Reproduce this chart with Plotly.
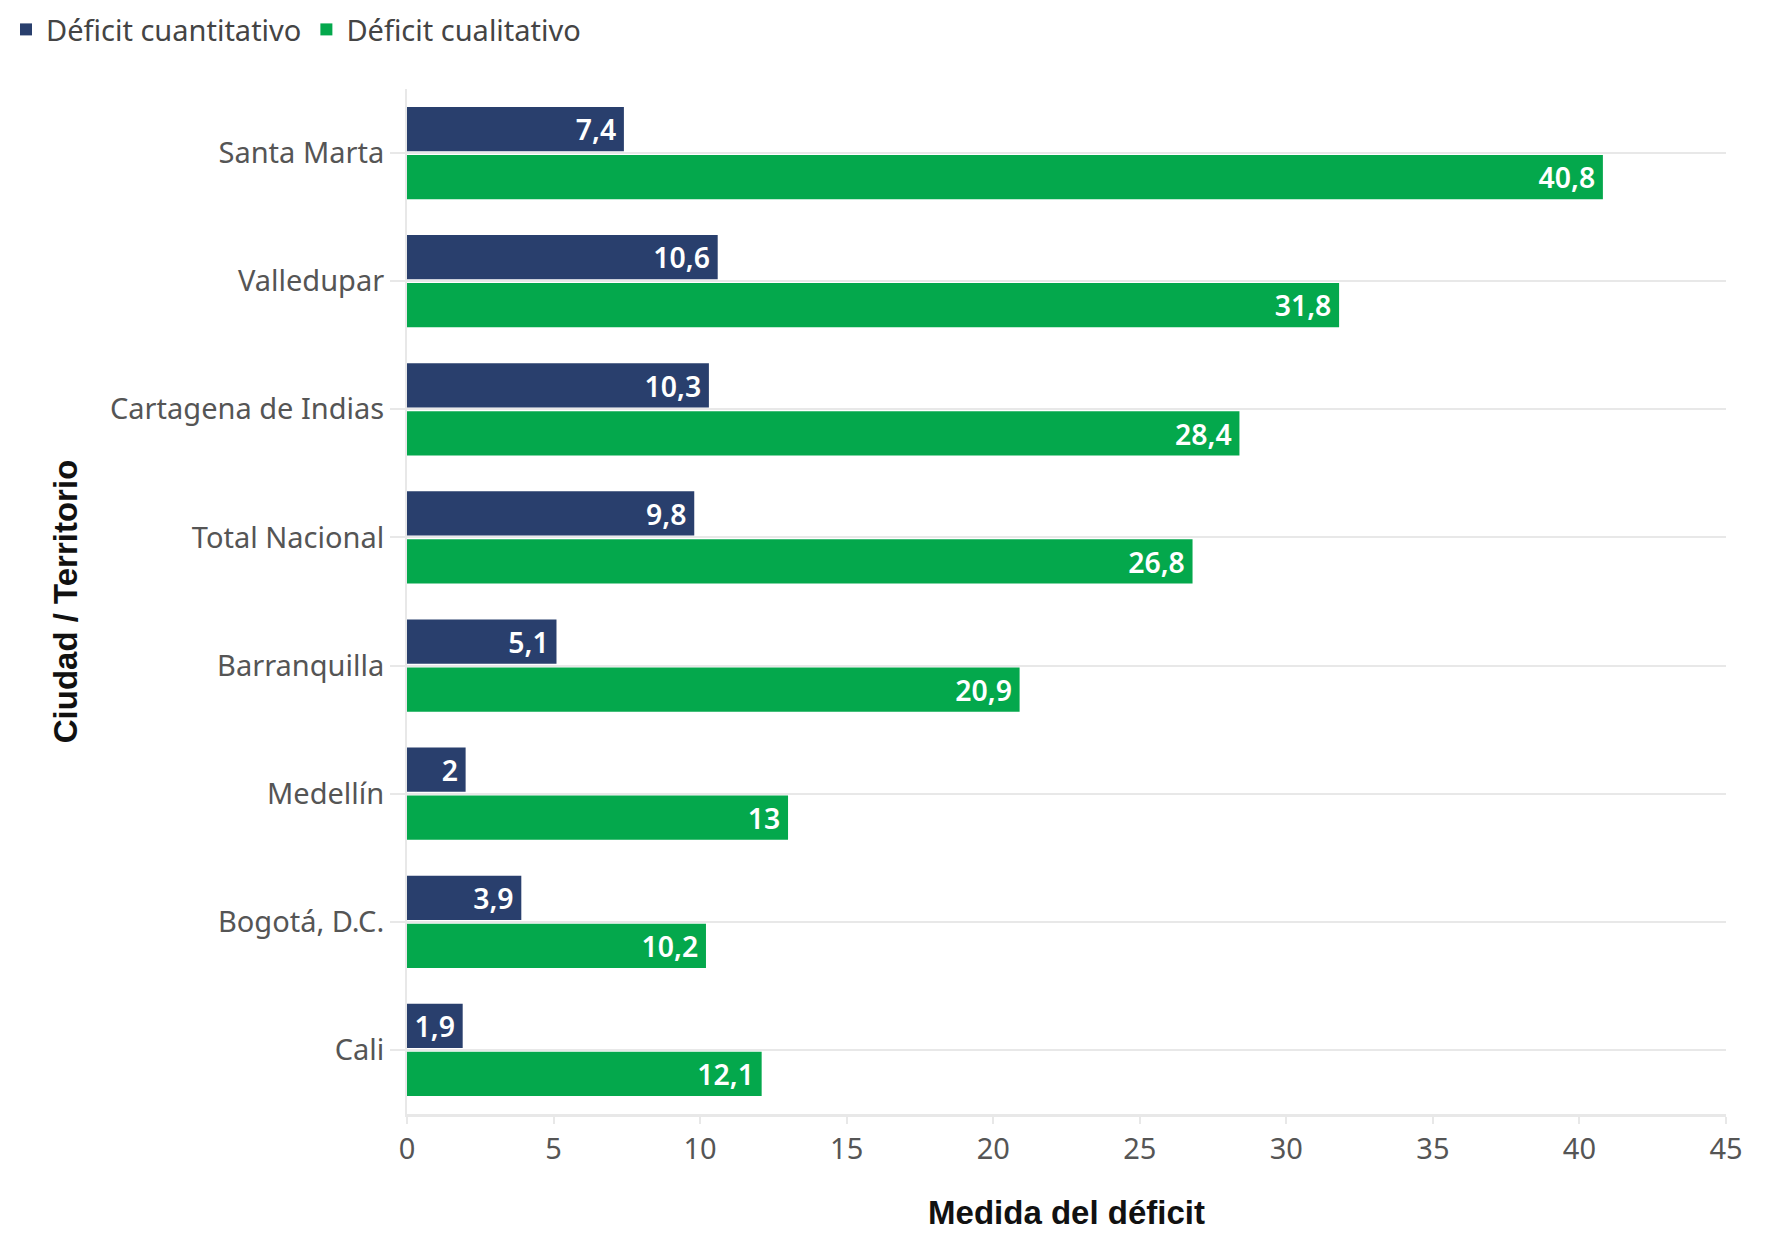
import plotly.graph_objects as go

categories = ["Santa Marta", "Valledupar", "Cartagena de Indias", "Total Nacional",
              "Barranquilla", "Medellín", "Bogotá, D.C.", "Cali"]
cuantitativo = [7.4, 10.6, 10.3, 9.8, 5.1, 2, 3.9, 1.9]
cualitativo = [40.8, 31.8, 28.4, 26.8, 20.9, 13, 10.2, 12.1]
x_ticks = [0, 5, 10, 15, 20, 25, 30, 35, 40, 45]

NAVY = "#293f6d"
GREEN = "#04a84c"
FONT = "Noto Sans"

def fmt(v):
    return f"{v:g}".replace(".", ",") + "\u2009"

fig = go.Figure()
for name, vals, col in [("Déficit cuantitativo", cuantitativo, NAVY),
                        ("Déficit cualitativo", cualitativo, GREEN)]:
    fig.add_trace(go.Bar(
        y=categories, x=vals, name=name, orientation="h",
        marker=dict(color=col, line=dict(width=0)),
        text=[fmt(v) for v in vals], textposition="inside",
        insidetextanchor="end", textangle=0,
        textfont=dict(family=FONT, size=29, color="white", weight=600),
        cliponaxis=False,
    ))

fig.update_layout(
    width=1783, height=1236,
    paper_bgcolor="white", plot_bgcolor="white",
    barmode="group", bargap=0.25, bargroupgap=0.08,
    margin=dict(l=399, r=65, t=81, b=130, autoexpand=False),
    font=dict(family=FONT, color="#555555"),
    uniformtext=dict(minsize=10, mode="show"),
    legend=dict(orientation="h", x=-0.304, y=1.058, xanchor="left", yanchor="middle",
                font=dict(family=FONT, size=29, color="#444444"),
                itemsizing="constant", traceorder="normal", itemwidth=30,
                tracegroupgap=0),
    showlegend=True,
)
fig.update_yaxes(
    autorange="reversed", showgrid=True, gridcolor="#e8e8e8", gridwidth=2,
    ticks="outside", ticklen=15, tickcolor="#e8e8e8", tickwidth=2,
    tickfont=dict(family=FONT, size=29, color="#555555"),
    showline=True, linecolor="#e8e8e8", linewidth=2, automargin=False,
    title=dict(text="Ciudad / Territorio", standoff=22,
               font=dict(family="Liberation Sans", size=33, color="#111111", weight="bold")),
)
fig.update_xaxes(
    range=[0, 45], tickvals=x_ticks, showgrid=False, zeroline=False,
    ticks="outside", ticklen=7, tickcolor="#e8e8e8", tickwidth=2,
    showline=True, linecolor="#e8e8e8", linewidth=3, automargin=False,
    tickfont=dict(family=FONT, size=29, color="#555555"),
    title=dict(text="Medida del déficit", standoff=36,
               font=dict(family="Liberation Sans", size=33, color="#111111", weight="bold")),
)

fig.write_html("out.html")
